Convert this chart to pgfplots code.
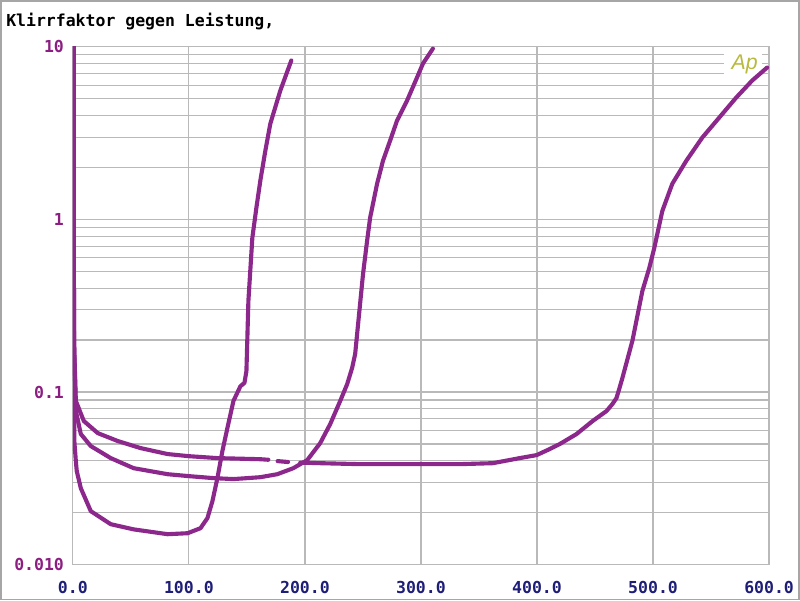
\documentclass[border=0pt]{standalone}
\usepackage{fontspec}
\setmonofont{DejaVu Sans Mono}
\setsansfont{Liberation Sans}
\usepackage{pgfplots}
\pgfplotsset{compat=1.18}
\definecolor{curve}{RGB}{140,40,140}
\definecolor{ylab}{RGB}{140,30,130}
\definecolor{xlab}{RGB}{30,30,120}
\definecolor{gridc}{RGB}{185,185,185}
\definecolor{apc}{RGB}{185,185,60}
\tikzset{cv/.style={curve, line width=3.1pt, line join=round, line cap=round, mark=none}}
\begin{document}
\begin{tikzpicture}[x=0.75pt,y=0.75pt]
\draw[gray!70,line width=1.5pt,fill=white] (0,0) rectangle (800,600);
\node[anchor=west,inner sep=0pt,font=\ttfamily\bfseries\fontsize{12.4}{14}\selectfont] at (5,579) {Klirrfaktor gegen Leistung,};
\begin{axis}[
  at={(54pt,26.25pt)}, anchor=south west, scale only axis,
  width=523.5pt, height=389.25pt,
  xmin=0, xmax=600, ymin=0.01, ymax=10, ymode=log, log basis y=10,
  axis line style={gridc, line width=0.9pt},
  xtick={0,100,...,600},
  xticklabels={0.0,100.0,200.0,300.0,400.0,500.0,600.0},
  ytick={0.01,0.1,1,10}, yticklabels={0.010,0.1,1,10},
  minor ytick={0.02,0.03,0.04,0.05,0.06,0.07,0.08,0.09,0.2,0.3,0.4,0.5,0.6,0.7,0.8,0.9,2,3,4,5,6,7,8,9},
  xmajorgrids, ymajorgrids, yminorgrids,
  grid style={gridc, line width=0.9pt},
  minor grid style={gridc, line width=0.9pt},
  major tick length=0pt, minor tick length=0pt,
  tick label style={font=\ttfamily\bfseries\fontsize{12.4}{14}\selectfont},
  xticklabel style={xlab, anchor=base, inner sep=0pt, yshift=-21.75pt},
  yticklabel style={ylab, anchor=east, inner sep=0pt, xshift=-6.5pt},
]
\fill[white] (axis cs:561,6.6) rectangle (axis cs:594,9.6);
\node[apc, inner sep=0pt, font=\sffamily\itshape\fontsize{16}{16}\selectfont] at (axis cs:579,7.9) {Ap};
% curve A
\addplot[cv] coordinates {
(0.8,10) (0.9,0.3) (1.3,0.052) (2.6,0.0398) (3.4,0.0348) (6.9,0.0277) (15.5,0.0204)
(32.7,0.01714) (52.4,0.0160) (81.7,0.0150) (98.9,0.0152) (110.0,0.01625)
(116.0,0.0186) (120.3,0.0233) (124.6,0.0317) (128.9,0.0455) (133.2,0.0618)
(138.4,0.0887) (144.4,0.108) (147.9,0.113) (149.6,0.132) (151.3,0.337)
(154.7,0.783) (158.2,1.17) (161.6,1.68) (165.9,2.50) (170.2,3.59) (178.8,5.58) (188.3,8.34)
};
% curve B
\addplot[cv] coordinates {
(0.8,10) (1.0,0.20) (2.6,0.0776) (6.9,0.0571) (15.5,0.0486) (32.7,0.0414) (52.4,0.0362)
(81.7,0.0334) (98.9,0.0326) (121.2,0.0317) (138.4,0.0313) (150.4,0.0317)
(161.6,0.0321) (176.2,0.0334) (190.0,0.0362) (202.0,0.0403) (213.2,0.0506)
(221.8,0.0652) (230.4,0.0887) (236.4,0.111) (240.7,0.138) (243.3,0.166)
(245.0,0.217) (246.7,0.2836) (250.1,0.484) (253.6,0.752) (256.2,1.023)
(262.2,1.61) (267.3,2.19) (273.4,2.86) (279.4,3.74) (288.0,4.88) (296.6,6.64)
(301.7,8.00) (310.3,9.77)
};
% curve C
\addplot[cv] coordinates {
(0.8,10) (1.0,0.20) (2.6,0.0887) (9.5,0.0679) (21.5,0.0578) (38.7,0.0520)
(58.5,0.0473) (81.7,0.0437) (99.7,0.0425) (124.6,0.0414) (161.6,0.0408) (168.5,0.0405)
};
\addplot[cv] coordinates {(176.5,0.0398) (185.5,0.0393)};
\addplot[cv] coordinates {
(196,0.0390) (213.2,0.0387) (247.6,0.0382) (333.5,0.0382) (361.9,0.0387)
(385.1,0.0414) (399.7,0.0431) (410.9,0.0467) (419.5,0.0499) (434.1,0.0571)
(447.9,0.0679) (459.9,0.0776) (465.0,0.0852) (468.5,0.0923) (471.1,0.1055)
(473.6,0.1206) (482.2,0.198) (490.8,0.385) (496.8,0.524) (501.1,0.685)
(508.0,1.12) (516.6,1.61) (528.7,2.19) (542.4,2.98) (557.0,3.89) (571.6,5.08)
(585.4,6.38) (598.3,7.59)
};
\end{axis}
\end{tikzpicture}
\end{document}
